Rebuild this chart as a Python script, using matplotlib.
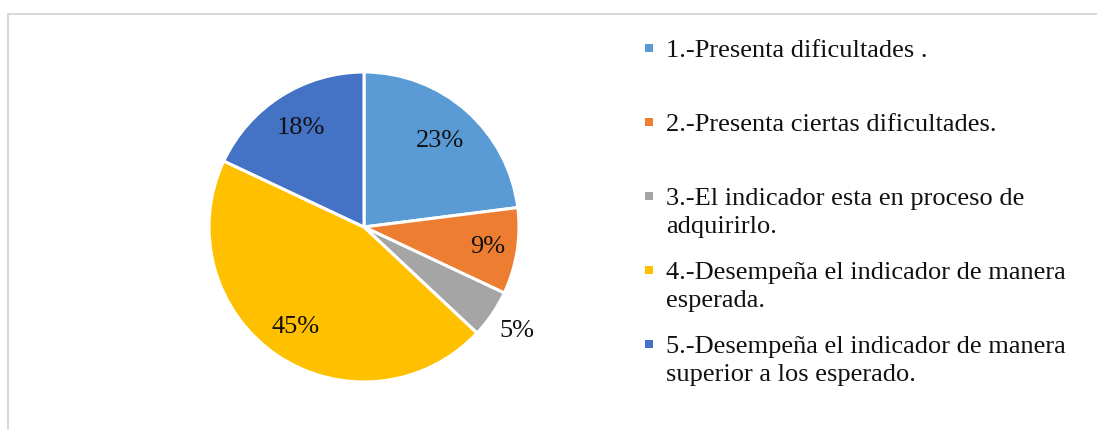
import numpy as np
import matplotlib.pyplot as plt
from matplotlib.lines import Line2D
from matplotlib.patches import Rectangle

plt.rcParams['font.family'] = ['Liberation Serif', 'DejaVu Serif']

# data
categorias = ['1.-Presenta dificultades .',
              '2.-Presenta ciertas dificultades.',
              '3.-El indicador esta en proceso de\nadquirirlo.',
              '4.-Desempeña el indicador de manera\nesperada.',
              '5.-Desempeña el indicador de manera\nsuperior a los esperado.']
porcentajes = [23, 9, 5, 45, 18]
colores = ['#5B9BD5', '#ED7D31', '#A5A5A5', '#FFC000', '#4472C4']

W, H = 1097, 430
fig = plt.figure(figsize=(W / 100, H / 100), dpi=100)

# pie, center (364,227) px, radius 155 px
cx, cy, r = 364, 227, 155
ax = fig.add_axes([(cx - r) / W, (H - cy - r) / H, 2 * r / W, 2 * r / H])
wedges, _ = ax.pie(porcentajes, colors=colores, startangle=90, counterclock=False,
                   radius=1, wedgeprops=dict(edgecolor='white', linewidth=2.2))
ax.set_xlim(-1, 1)
ax.set_ylim(-1, 1)
ax.axis('off')

# percent labels
dist = [0.74, 0.81, 1.19, 0.78, 0.76]
for w, v, d in zip(wedges, porcentajes, dist):
    ang = np.deg2rad((w.theta1 + w.theta2) / 2)
    ax.text(d * np.cos(ang), d * np.sin(ang), f'{v}%', ha='center', va='center',
            fontsize=19, color='#111111')

# legend drawn by hand
y0, step, lh = 48, 74, 28
for i, (lab, col) in enumerate(zip(categorias, colores)):
    ym = y0 + i * step
    fig.add_artist(Rectangle(((649 - 4) / W, 1 - (ym + 4) / H), 8 / W, 8 / H,
                             transform=fig.transFigure, color=col, lw=0))
    for j, linea in enumerate(lab.split('\n')):
        fig.text(666 / W, 1 - (ym + 9 + j * lh) / H, linea, ha='left', va='baseline',
                 fontsize=19, color='#111111')

# frame lines (top and left)
fig.add_artist(Line2D([8 / W, 1], [1 - 14 / H, 1 - 14 / H], transform=fig.transFigure,
                      color='#D9D9D9', lw=1.5))
fig.add_artist(Line2D([8 / W, 8 / W], [0, 1 - 14 / H], transform=fig.transFigure,
                      color='#D9D9D9', lw=1.5))

fig.savefig('out.png', dpi=100)
